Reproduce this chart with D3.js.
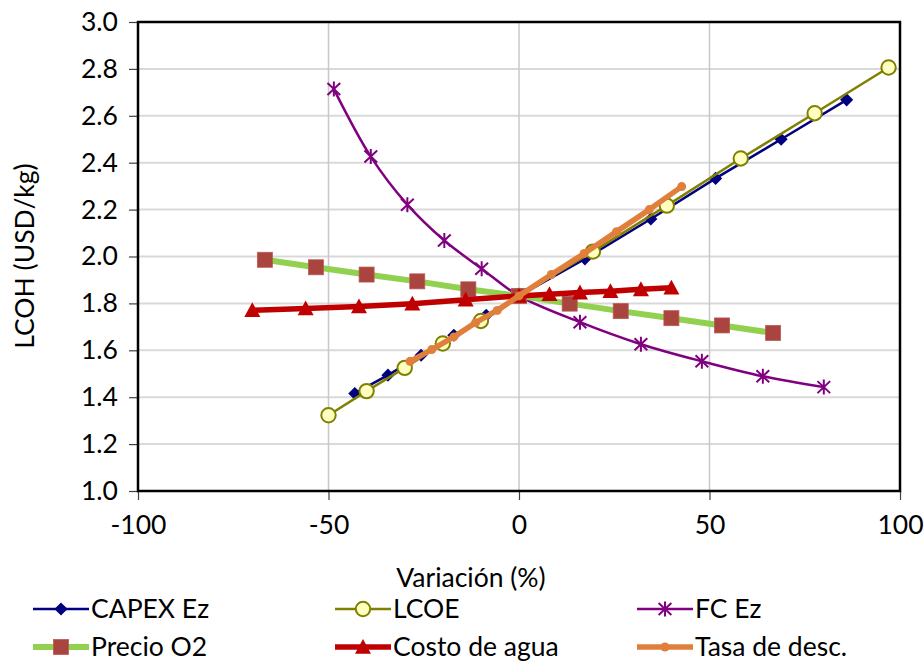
<!DOCTYPE html>
<html>
<head>
<meta charset="utf-8">
<script src="https://cdn.jsdelivr.net/npm/d3@7"></script>
<style>
  body { margin: 0; background: #fff; }
  svg text { font-family: Lato, "Liberation Sans", sans-serif; fill: #000; }
</style>
</head>
<body>
<svg id="chart" width="924" height="664"></svg>
<script>
// values (variation %, LCOH USD/kg)
const capexX = [-43.1, -34.4, -25.7, -17.1, -8.6, 0, 17.3, 34.6, 51.6, 68.8, 86];
const capexY = [1.416, 1.494, 1.579, 1.664, 1.749, 1.832, 1.99, 2.16, 2.333, 2.5, 2.668];
const lcoeX = [-50, -40, -30, -20, -10, 0, 19.4, 38.8, 58.2, 77.6, 97];
const lcoeY = [1.323, 1.426, 1.525, 1.629, 1.725, 1.832, 2.021, 2.217, 2.418, 2.611, 2.806];
const fcX = [-48.6, -38.9, -29.3, -19.6, -9.8, 0, 16, 32, 48, 64, 80];
const fcY = [2.714, 2.426, 2.221, 2.068, 1.948, 1.832, 1.72, 1.626, 1.553, 1.489, 1.443];
const o2X = [-66.7, -53.3, -40, -26.7, -13.3, 0, 13.3, 26.7, 40, 53.3, 66.7];
const o2Y = [1.986, 1.954, 1.923, 1.894, 1.86, 1.832, 1.799, 1.767, 1.737, 1.706, 1.674];
const aguaX = [-70, -56, -42, -28, -14, 0, 8, 16, 24, 32, 40];
const aguaY = [1.771, 1.778, 1.787, 1.799, 1.816, 1.832, 1.839, 1.846, 1.852, 1.86, 1.867];
const tasaX = [-28.6, -22.9, -17.1, -11.4, -5.7, 0, 8.5, 17.1, 25.6, 34.2, 42.7];
const tasaY = [1.553, 1.603, 1.657, 1.718, 1.77, 1.832, 1.923, 2.013, 2.106, 2.2, 2.298];

const xTicks = [-100, -50, 0, 50, 100];
const yTicks = [1.0, 1.2, 1.4, 1.6, 1.8, 2.0, 2.2, 2.4, 2.6, 2.8, 3.0];

const series = [
  {name: "CAPEX Ez", xs: capexX, ys: capexY, color: "#000080", width: 2.5, marker: "diamond", fill: "#000080", smooth: false},
  {name: "LCOE", xs: lcoeX, ys: lcoeY, color: "#808000", width: 2.5, marker: "circle", fill: "#FFFFC0", smooth: false},
  {name: "FC Ez", xs: fcX, ys: fcY, color: "#800080", width: 2.5, marker: "star", fill: "none", smooth: true},
  {name: "Precio O2", xs: o2X, ys: o2Y, color: "#92D050", width: 6, marker: "square", fill: "#A9443F", smooth: false},
  {name: "Costo de agua", xs: aguaX, ys: aguaY, color: "#C00000", width: 5.5, marker: "triangle", fill: "#C00000", smooth: false},
  {name: "Tasa de desc.", xs: tasaX, ys: tasaY, color: "#E07F3C", width: 5.5, marker: "dot", fill: "#E07F3C", smooth: false}
];

const fontSize = "26.5px";

const margin = {top: 22, right: 24, bottom: 173, left: 138},
  width = 924 - margin.left - margin.right,
  height = 664 - margin.top - margin.bottom;

const svg = d3.select("#chart");
const g = svg.append("g").attr("transform", `translate(${margin.left},${margin.top})`);

const x = d3.scaleLinear().domain([-100, 100]).range([0, width]);
const y = d3.scaleLinear().domain([1, 3]).range([height, 0]);

// gridlines
g.append("g")
  .selectAll("line")
  .data(yTicks.slice(1, -1))
  .join("line")
  .attr("x1", 0).attr("x2", width)
  .attr("y1", d => y(d)).attr("y2", d => y(d))
  .attr("stroke", "#D9D9D9").attr("stroke-width", 2);
g.append("g")
  .selectAll("line")
  .data(xTicks.slice(1, -1))
  .join("line")
  .attr("y1", 0).attr("y2", height)
  .attr("x1", d => x(d)).attr("x2", d => x(d))
  .attr("stroke", "#C8C8C8").attr("stroke-width", 1.5);

// axes
const yAxis = g.append("g")
  .call(d3.axisLeft(y).tickValues(yTicks).tickFormat(d3.format(".1f")).tickSize(9).tickSizeOuter(0).tickPadding(11));
const xAxis = g.append("g")
  .attr("transform", `translate(0,${height})`)
  .call(d3.axisBottom(x).tickValues(xTicks).tickFormat(d => String(d)).tickSize(9).tickSizeOuter(0).tickPadding(15));
[yAxis, xAxis].forEach(a => {
  a.select(".domain").remove();
  a.selectAll(".tick line").attr("stroke", "#404040").attr("stroke-width", 1.2);
  a.selectAll("text").style("font-size", fontSize).attr("fill", "#000");
});

// plot frame
g.append("rect")
  .attr("width", width).attr("height", height)
  .attr("fill", "none").attr("stroke", "#000").attr("stroke-width", 2.5);

// markers
function drawMarker(sel, s) {
  if (s.marker === "diamond") {
    sel.append("path").attr("d", d3.symbol(d3.symbolDiamond2, 110)).attr("fill", s.fill);
  } else if (s.marker === "circle") {
    sel.append("circle").attr("r", 7.2).attr("fill", s.fill).attr("stroke", s.color).attr("stroke-width", 2);
  } else if (s.marker === "star") {
    const r = 7.5;
    sel.append("path")
      .attr("d", `M0,${-r}V${r}M${-r * 0.85},${-r * 0.8}L${r * 0.85},${r * 0.8}M${-r * 0.85},${r * 0.8}L${r * 0.85},${-r * 0.8}`)
      .attr("stroke", s.color).attr("stroke-width", 2).attr("fill", "none");
  } else if (s.marker === "square") {
    const h = 7.5;
    sel.append("rect").attr("x", -h).attr("y", -h).attr("width", 2 * h).attr("height", 2 * h)
      .attr("fill", s.fill).attr("stroke", "#B85A55").attr("stroke-width", 0.8);
  } else if (s.marker === "triangle") {
    const h = 8;
    sel.append("path").attr("d", `M0,${-h}L${h},${h * 0.85}L${-h},${h * 0.85}Z`).attr("fill", s.fill);
  } else if (s.marker === "dot") {
    sel.append("circle").attr("r", 4.5).attr("fill", s.fill);
  }
}

series.forEach(s => {
  const pts = s.xs.map((v, i) => [v, s.ys[i]]);
  const line = d3.line()
    .x(d => x(d[0])).y(d => y(d[1]))
    .curve(s.smooth ? d3.curveCatmullRom.alpha(0.5) : d3.curveLinear);
  const sg = g.append("g");
  sg.append("path").datum(pts)
    .attr("d", line)
    .attr("fill", "none").attr("stroke", s.color).attr("stroke-width", s.width)
    .attr("stroke-linejoin", "round").attr("stroke-linecap", "round");
  sg.selectAll("g.m").data(pts).join("g").attr("class", "m")
    .attr("transform", d => `translate(${x(d[0])},${y(d[1])})`)
    .each(function () { drawMarker(d3.select(this), s); });
});

// axis titles
svg.append("text")
  .attr("x", 471).attr("y", 587)
  .attr("text-anchor", "middle").style("font-size", fontSize)
  .text("Variación (%)");
svg.append("text")
  .attr("transform", `translate(34,256) rotate(-90)`)
  .attr("text-anchor", "middle").style("font-size", fontSize)
  .text("LCOH (USD/kg)");

// legend
const legX = [33, 335, 637], legY = [609, 647];
series.forEach((s, i) => {
  const lx = legX[i % 3], ly = legY[Math.floor(i / 3)];
  const lg = svg.append("g").attr("transform", `translate(${lx},${ly})`);
  lg.append("line").attr("x1", 0).attr("x2", 56)
    .attr("stroke", s.color).attr("stroke-width", s.width);
  const mg = lg.append("g").attr("transform", "translate(28,0)");
  drawMarker(mg, s);
  lg.append("text").attr("x", 58).attr("y", 0).attr("dy", "0.35em")
    .style("font-size", fontSize).text(s.name);
});
</script>
</body>
</html>
